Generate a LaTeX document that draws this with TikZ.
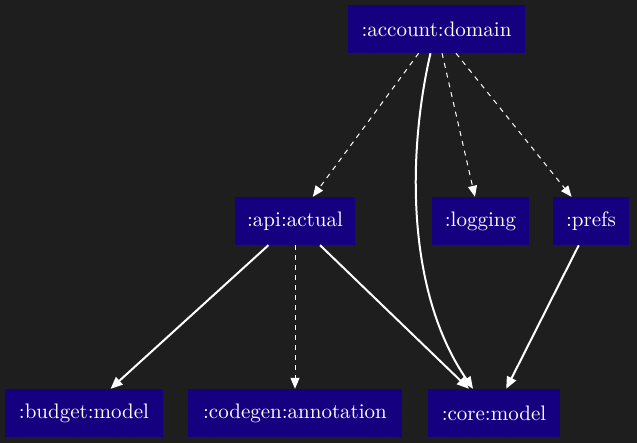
\documentclass[tikz,border=0pt]{standalone}
\usepackage{fontspec}
\setmainfont{lmroman10-regular.otf}
\usetikzlibrary{arrows.meta,calc}
\definecolor{bg}{HTML}{1E1E1E}
\definecolor{nodeblue}{HTML}{150080}
\begin{document}
\begin{tikzpicture}[x=1pt,y=-1pt,
  mod/.style={fill=nodeblue,text=white,inner sep=0pt,minimum height=48pt,
    font=\fontsize{21}{25}\selectfont},
  dep/.style={draw=white,line width=2pt,-{Triangle[length=12pt,width=10pt]}},
  ddep/.style={draw=white,line width=1pt,dash pattern=on 5pt off 5pt,-{Triangle[length=11pt,width=9pt]}}]
\fill[bg] (0,0) rectangle (637,443);
\useasboundingbox (0,0) rectangle (637,443);
\node[mod,minimum width=177pt] (acc) at (436.5,29) {:account:domain};
\node[mod,minimum width=120pt] (api) at (295,221) {:api:actual};
\node[mod,minimum width=97pt] (log) at (480.5,221) {:logging};
\node[mod,minimum width=76pt] (prefs) at (591,221) {:prefs};
\node[mod,minimum width=158pt] (bud) at (84,413) {:budget:model};
\node[mod,minimum width=214pt] (cg) at (295,413) {:codegen:annotation};
\node[mod,minimum width=132pt] (core) at (494,413) {:core:model};
\draw[ddep] (acc) -- (api);
\draw[ddep] (acc) -- (log);
\draw[ddep] (acc) -- (prefs);
\draw[dep] ($(acc.south)+(-6,0)$) .. controls (408,150) and (405,290) .. ($(core.north)+(-21,0)$);
\draw[dep] (api) -- (bud);
\draw[ddep] (api) -- (cg);
\draw[dep] (api) -- (core);
\draw[dep] (prefs) -- (core);
\end{tikzpicture}
\end{document}
